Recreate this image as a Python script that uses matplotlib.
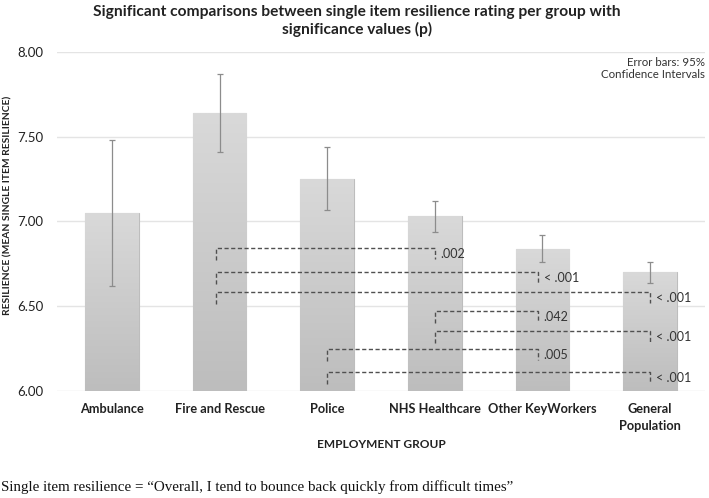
import matplotlib
matplotlib.use("Agg")
import matplotlib.pyplot as plt
import numpy as np

# data
groups = ["Ambulance", "Fire and Rescue", "Police", "NHS Healthcare",
          "Other KeyWorkers", "General\nPopulation"]
means = [7.05, 7.64, 7.25, 7.03, 6.84, 6.70]
ci_low = [6.62, 7.41, 7.07, 6.94, 6.76, 6.64]
ci_high = [7.48, 7.87, 7.44, 7.12, 6.92, 6.76]

# significant comparisons: (group a, group b, bracket height, p label)
comp_a = [1, 1, 1, 3, 3, 2, 2]
comp_b = [3, 4, 5, 4, 5, 4, 5]
comp_y = [6.845, 6.70, 6.585, 6.47, 6.355, 6.245, 6.11]
comp_p = [".002", "< .001", "< .001", ".042", "< .001", ".005", "< .001"]

plt.rcParams['font.family'] = ['Lato', 'DejaVu Sans']

fig = plt.figure(figsize=(7.09, 4.98), dpi=100)
ax = fig.add_axes([0.0804, 0.2149, 0.9140, 0.6807])

x = np.arange(len(groups))
bars = ax.bar(x, means, width=0.5, bottom=0, color='#cccccc',
              edgecolor='#bdbdbd', linewidth=0.8, zorder=2)

# vertical grey gradient in each bar
cmap = matplotlib.colors.LinearSegmentedColormap.from_list('g', ['#bdbdbd', '#d9d9d9'])
grad = np.linspace(0, 1, 256).reshape(-1, 1)
for b in bars:
    x0, w, h = b.get_x(), b.get_width(), b.get_height()
    im = ax.imshow(grad, cmap=cmap, extent=[x0, x0 + w, 6.0, h],
                   origin='lower', aspect='auto', zorder=2.1)
    im.set_clip_path(b)

yerr = [np.array(means) - np.array(ci_low), np.array(ci_high) - np.array(means)]
ax.errorbar(x, means, yerr=yerr, fmt='none', ecolor='#8c8c8c',
            elinewidth=0.9, capsize=2.2, capthick=0.9, zorder=3)

# significance brackets
for a, b, y, p in zip(comp_a, comp_b, comp_y, comp_p):
    xa = a - 0.03 if a == 1 else a
    xb = b - 0.04 if b == 4 else b
    ax.plot([xa, xa, xb, xb], [y - 0.07, y, y, y - 0.065], color='#505050',
            lw=1.0, ls=(0, (3, 1.8)), zorder=4)
    ax.text(xb + 0.05, y - 0.035, p, fontsize=9, color='#333333',
            va='center', ha='left', zorder=5)

ax.set_xlim(-0.51, 5.51)
ax.set_ylim(6.0, 8.0)
ax.set_yticks([6.0, 6.5, 7.0, 7.5, 8.0])
ax.set_yticklabels(["6.00", "6.50", "7.00", "7.50", "8.00"], fontsize=9.5,
                   color='#222222')
ax.set_xticks(x)
ax.set_xticklabels(groups, fontsize=9.2, fontweight='bold', color='#222222',
                   linespacing=1.5)
ax.tick_params(axis='x', length=0, pad=9)
ax.tick_params(axis='y', length=0, pad=10)
ax.grid(axis='y', color='#e4e4e4', lw=1.0, zorder=0)
ax.set_axisbelow(True)
for s in ax.spines.values():
    s.set_visible(False)

fig.text(0.011, 0.588, "RESILIENCE (MEAN SINGLE ITEM RESILIENCE)", rotation=90,
         ha='center', va='center', fontsize=7.4, fontweight='bold', color='#222222')
ax.set_xlabel("EMPLOYMENT GROUP", fontsize=8.6, fontweight='bold',
              color='#222222', labelpad=5)

fig.text(0.503, 0.99, "Significant comparisons between single item resilience rating per group with\nsignificance values (p)",
         ha='center', va='top', fontsize=11.2, fontweight='bold', color='#222222',
         linespacing=1.25)

fig.text(0.994, 0.886, "Error bars: 95%\nConfidence Intervals", ha='right', va='top',
         fontsize=8.3, color='#333333', linespacing=1.15,
         bbox=dict(facecolor='white', edgecolor='none', pad=1))

fig.text(0.002, 0.022, "Single item resilience = \u201cOverall, I tend to bounce back quickly from difficult times\u201d",
         ha='left', va='center', fontsize=10.8, family='Liberation Serif', color='#111111')

fig.savefig("out.png", dpi=100)
